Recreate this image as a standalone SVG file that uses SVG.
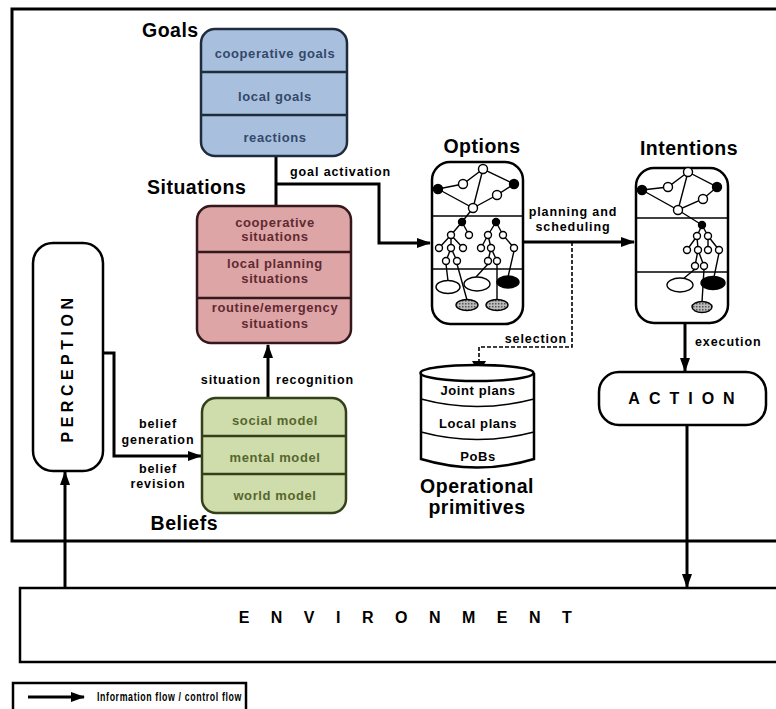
<svg xmlns="http://www.w3.org/2000/svg" width="776" height="709" viewBox="0 0 776 709">
  <style>
    .frame { fill: none; stroke: #000; stroke-width: 3; }
    .box { fill: #fff; stroke: #000; stroke-width: 2.5; }
    .line { fill: none; stroke: #000; stroke-width: 3; }
    .dash { fill: none; stroke: #000; stroke-width: 1.6; stroke-dasharray: 4 2; }
    .title { font-family: "Liberation Sans", Arial, sans-serif; font-weight: bold; font-size: 19.5px; letter-spacing: 0.5px; fill: #000; }
    .lbl { font-family: "Liberation Sans", Arial, sans-serif; font-weight: bold; font-size: 12.5px; letter-spacing: 0.9px; fill: #000; }
    .cell { font-family: "Liberation Sans", Arial, sans-serif; font-weight: bold; font-size: 13px; letter-spacing: 0.6px; text-anchor: middle; }
    .big { font-family: "Liberation Sans", Arial, sans-serif; font-weight: bold; font-size: 16px; fill: #000; text-anchor: middle; }
    .goal { fill: #a8c0de; stroke: #1e2c3e; stroke-width: 2.5; }
    .goaltx { fill: #34486a; }
    .sit { fill: #dea5a6; stroke: #34181c; stroke-width: 2.5; }
    .sittx { fill: #5e2a32; }
    .bel { fill: #cfdcab; stroke: #34401a; stroke-width: 2.5; }
    .beltx { fill: #56662e; }
    .edge { stroke: #000; stroke-width: 1.4; fill: none; }
    .n { fill: #fff; stroke: #000; stroke-width: 1.4; }
    .nb { fill: #000; stroke: #000; stroke-width: 1.4; }
    .ng { fill: url(#dots); stroke: #000; stroke-width: 1.4; }
  </style>
  <defs>
    <marker id="arrow" viewBox="0 0 14 10" refX="13" refY="5" markerWidth="14" markerHeight="10" markerUnits="userSpaceOnUse" orient="auto">
      <path d="M0,0 L14,5 L0,10 Z" fill="#000"/>
    </marker>
    <pattern id="dots" width="3" height="3" patternUnits="userSpaceOnUse">
      <rect width="3" height="3" fill="#bbb"/>
      <rect width="1.5" height="1.5" fill="#555"/>
    </pattern>
  </defs>

  <rect width="776" height="709" fill="#fff"/>

  <!-- agent boundary -->
  <rect class="frame" x="12" y="9" width="800" height="532"/>

  <!-- connectors -->
  <g id="connectors">
    <!-- goal activation -->
    <path class="line" d="M276,156 V206"/>
    <path class="line" d="M276,184 H379 V243 H430" marker-end="url(#arrow)"/>
    <!-- situation recognition -->
    <path class="line" d="M268,398 V345" marker-end="url(#arrow)"/>
    <!-- belief generation / revision -->
    <path class="line" d="M103,353 H114 V456 H201" marker-end="url(#arrow)"/>
    <!-- planning and scheduling -->
    <path class="line" d="M523,242 H634" marker-end="url(#arrow)"/>
    <!-- selection -->
    <path class="dash" d="M572,242 V347 H479 V372" />
    <path d="M472,361 L486,361 L479,373 Z" fill="#000"/>
    <!-- execution -->
    <path class="line" d="M685,323 V371" marker-end="url(#arrow)"/>
    <!-- action to environment -->
    <path class="line" d="M687,425 V587" marker-end="url(#arrow)"/>
    <!-- environment to perception -->
    <path class="line" d="M65,588 V472" marker-end="url(#arrow)"/>
  </g>

  <!-- connector labels -->
  <g id="connector-labels">
    <text class="lbl" x="290" y="176">goal activation</text>
    <text class="lbl" x="261" y="384" text-anchor="end">situation</text>
    <text class="lbl" x="276" y="384">recognition</text>
    <text class="lbl" x="158" y="428" text-anchor="middle">belief</text>
    <text class="lbl" x="158" y="444" text-anchor="middle">generation</text>
    <text class="lbl" x="158" y="473" text-anchor="middle">belief</text>
    <text class="lbl" x="158" y="488" text-anchor="middle">revision</text>
    <text class="lbl" x="573" y="216" text-anchor="middle">planning and</text>
    <text class="lbl" x="573" y="231" text-anchor="middle">scheduling</text>
    <text class="lbl" x="567" y="343" text-anchor="end">selection</text>
    <text class="lbl" x="695" y="346">execution</text>
  </g>

  <!-- Goals -->
  <g id="goals">
    <text class="title" x="142" y="37">Goals</text>
    <rect class="goal" x="201" y="29" width="146" height="127" rx="14"/>
    <line class="goal" x1="201" y1="72" x2="347" y2="72"/>
    <line class="goal" x1="201" y1="115" x2="347" y2="115"/>
    <text class="cell goaltx" x="275" y="58">cooperative goals</text>
    <text class="cell goaltx" x="275" y="101">local goals</text>
    <text class="cell goaltx" x="275" y="142">reactions</text>
  </g>

  <!-- Situations -->
  <g id="situations">
    <text class="title" x="147" y="194">Situations</text>
    <rect class="sit" x="197" y="206" width="154" height="137" rx="14"/>
    <line class="sit" x1="197" y1="252" x2="351" y2="252"/>
    <line class="sit" x1="197" y1="298" x2="351" y2="298"/>
    <text class="cell sittx" x="275" y="227">cooperative</text>
    <text class="cell sittx" x="275" y="241">situations</text>
    <text class="cell sittx" x="275" y="268">local planning</text>
    <text class="cell sittx" x="275" y="283">situations</text>
    <text class="cell sittx" x="275" y="312">routine/emergency</text>
    <text class="cell sittx" x="275" y="328">situations</text>
  </g>

  <!-- Beliefs -->
  <g id="beliefs">
    <rect class="bel" x="202" y="398" width="144" height="115" rx="14"/>
    <line class="bel" x1="202" y1="436" x2="346" y2="436"/>
    <line class="bel" x1="202" y1="474" x2="346" y2="474"/>
    <text class="cell beltx" x="275" y="425">social model</text>
    <text class="cell beltx" x="275" y="462">mental model</text>
    <text class="cell beltx" x="275" y="500">world model</text>
    <text class="title" x="218" y="530" text-anchor="end">Beliefs</text>
  </g>

  <!-- Perception -->
  <g id="perception">
    <rect class="box" x="33" y="243" width="70" height="228" rx="20"/>
    <text class="big" transform="translate(72.5,368) rotate(-90)" font-size="18" letter-spacing="4.5">PERCEPTION</text>
  </g>

  <!-- Options -->
  <g id="options">
    <text class="title" x="482" y="153" text-anchor="middle">Options</text>
    <rect class="box" x="432" y="162" width="91" height="162" rx="18"/>
    <line class="edge" x1="432" y1="216" x2="523" y2="216" stroke-width="2"/>
    <line class="edge" x1="432" y1="269" x2="523" y2="269" stroke-width="2"/>
    <!-- top graph -->
    <path class="edge" d="M438,189 L463,184 L483,169 L514,184 L497,195 L473,208 L438,189 M483,169 L473,208 M473,208 L462,222"/>
    <circle class="nb" cx="438" cy="189" r="4.5"/>
    <circle class="n" cx="463" cy="184" r="4.5"/>
    <circle class="n" cx="483" cy="169" r="4.5"/>
    <circle class="nb" cx="514" cy="184" r="4.5"/>
    <circle class="n" cx="497" cy="195" r="4.5"/>
    <circle class="n" cx="473" cy="208" r="4.5"/>
    <!-- plan trees -->
    <path class="edge" d="M462,222 L451,235 M462,222 L469,235 M451,235 L439,248 M451,235 L451,248 M451,235 L463,248 M451,248 L446,261 M451,248 L457,261
      M496,222 L488,235 M496,222 L503,235 M488,235 L481,248 M488,235 L491,248 M503,235 L514,248 M491,248 L488,261 M491,248 L497,261"/>
    <circle class="nb" cx="462" cy="222" r="3.5"/>
    <circle class="n" cx="451" cy="235" r="3.5"/>
    <circle class="n" cx="469" cy="235" r="3.5"/>
    <circle class="n" cx="439" cy="248" r="3.5"/>
    <circle class="n" cx="451" cy="248" r="3.5"/>
    <circle class="n" cx="463" cy="248" r="3.5"/>
    <circle class="n" cx="446" cy="261" r="3.5"/>
    <circle class="n" cx="457" cy="261" r="3.5"/>
    <circle class="nb" cx="496" cy="222" r="3.5"/>
    <circle class="n" cx="488" cy="235" r="3.5"/>
    <circle class="n" cx="503" cy="235" r="3.5"/>
    <circle class="n" cx="481" cy="248" r="3.5"/>
    <circle class="n" cx="491" cy="248" r="3.5"/>
    <circle class="n" cx="514" cy="248" r="3.5"/>
    <circle class="n" cx="488" cy="261" r="3.5"/>
    <circle class="n" cx="497" cy="261" r="3.5"/>
    <!-- primitives -->
    <path class="edge" d="M446,264 L448,281 M457,264 L467,300 M488,264 L476,277 M497,264 L497,300 M514,251 L508,277"/>
    <ellipse class="n" cx="448" cy="287" rx="12" ry="6.5"/>
    <ellipse class="n" cx="477" cy="284" rx="13" ry="7"/>
    <ellipse class="nb" cx="508" cy="282" rx="11" ry="6"/>
    <ellipse class="ng" cx="467" cy="305" rx="11" ry="5.5"/>
    <ellipse class="ng" cx="497" cy="305" rx="11" ry="5.5"/>
  </g>

  <!-- Intentions -->
  <g id="intentions">
    <text class="title" x="689" y="155" text-anchor="middle">Intentions</text>
    <rect class="box" x="636" y="168" width="92" height="155" rx="18"/>
    <line class="edge" x1="636" y1="218" x2="728" y2="218" stroke-width="2"/>
    <line class="edge" x1="636" y1="272" x2="728" y2="272" stroke-width="2"/>
    <path class="edge" d="M642,190 L668,187 L688,172 L717,187 L703,199 L678,210 L642,190 M688,172 L678,210 M678,210 L702,225"/>
    <circle class="nb" cx="642" cy="190" r="4.5"/>
    <circle class="n" cx="668" cy="187" r="4.5"/>
    <circle class="n" cx="688" cy="172" r="4.5"/>
    <circle class="nb" cx="717" cy="187" r="4.5"/>
    <circle class="n" cx="703" cy="199" r="4.5"/>
    <circle class="n" cx="678" cy="210" r="4.5"/>
    <path class="edge" d="M702,225 L697,236 M702,225 L708,236 M697,236 L687,250 M697,236 L698,250 M708,236 L708,250 M708,236 L719,250 M698,250 L695,266 M698,250 L704,266"/>
    <circle class="nb" cx="702" cy="225" r="3.5"/>
    <circle class="n" cx="697" cy="236" r="3.5"/>
    <circle class="n" cx="708" cy="236" r="3.5"/>
    <circle class="n" cx="687" cy="250" r="3.5"/>
    <circle class="n" cx="698" cy="250" r="3.5"/>
    <circle class="n" cx="708" cy="250" r="3.5"/>
    <circle class="n" cx="719" cy="250" r="3.5"/>
    <circle class="n" cx="695" cy="266" r="3.5"/>
    <circle class="n" cx="704" cy="266" r="3.5"/>
    <path class="edge" d="M695,269 L683,279 M704,269 L702,302 M719,253 L714,277"/>
    <ellipse class="n" cx="680" cy="285" rx="13" ry="7"/>
    <ellipse class="nb" cx="713" cy="283" rx="12" ry="6.5"/>
    <ellipse class="ng" cx="702" cy="307" rx="10" ry="5.5"/>
  </g>

  <!-- Operational primitives -->
  <g id="primitives">
    <path class="box" d="M421,373 V459 Q477,476 534,459 V373"/>
    <ellipse class="box" cx="477" cy="373" rx="56.5" ry="8"/>
    <path class="edge" stroke-width="2" d="M421,399 Q477,414 534,399"/>
    <path class="edge" stroke-width="2" d="M421,432 Q477,447 534,432"/>
    <text class="cell" x="478" y="395" fill="#000">Joint plans</text>
    <text class="cell" x="478" y="428" fill="#000">Local plans</text>
    <text class="cell" x="478" y="461" fill="#000">PoBs</text>
    <text class="title" x="477" y="493" text-anchor="middle" font-size="17.5">Operational</text>
    <text class="title" x="477" y="514" text-anchor="middle" font-size="17.5">primitives</text>
  </g>

  <!-- Action -->
  <g id="action">
    <rect class="box" x="599" y="372" width="167" height="53" rx="20"/>
    <text class="big" x="686" y="404" letter-spacing="9">ACTION</text>
  </g>

  <!-- Environment -->
  <g id="environment">
    <rect class="box" x="20" y="588" width="800" height="74"/>
    <text class="big" x="416" y="623" letter-spacing="21.5">ENVIRONMENT</text>
  </g>

  <!-- Legend -->
  <g id="legend">
    <rect class="box" x="13" y="683" width="233" height="40" stroke-width="1.6"/>
    <path class="line" d="M28,697 H84" marker-end="url(#arrow)"/>
    <text class="lbl" x="97" y="701" font-size="10" letter-spacing="0" textLength="145" lengthAdjust="spacingAndGlyphs">Information flow / control flow</text>
  </g>
</svg>
